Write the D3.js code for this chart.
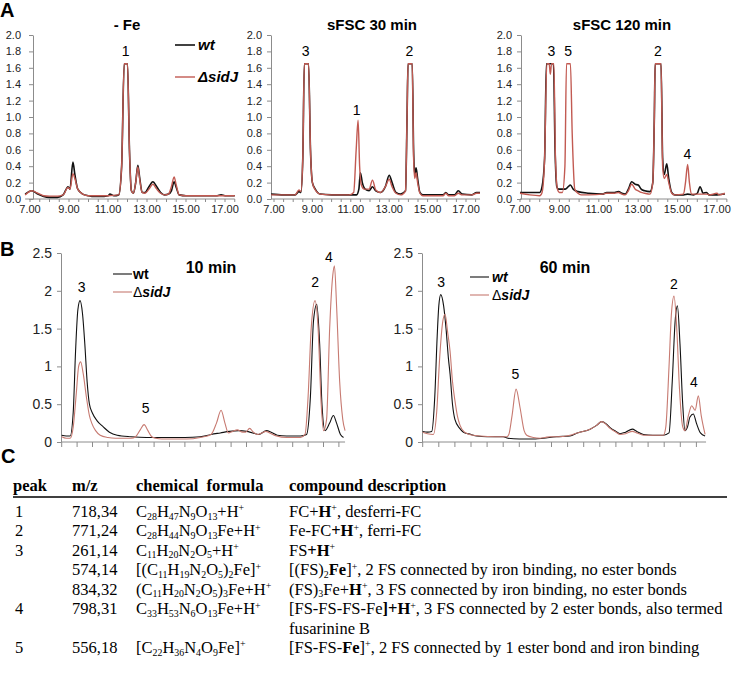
<!DOCTYPE html>
<html><head><meta charset="utf-8">
<script src="https://cdn.jsdelivr.net/npm/d3@7"></script>
<style>body{margin:0;background:#fff} svg{display:block} text{font-family:"Liberation Sans",Arial,sans-serif}</style>
</head><body><svg id="c" width="733" height="680"></svg>
<script>
// ---------------- DATA ----------------
// Panel A: retention time (min) vs signal
const aTickLabels = [7, 9, 11, 13, 15, 17];
const aYTicks = [0, 0.2, 0.4, 0.6, 0.8, 1.0, 1.2, 1.4, 1.6, 1.8, 2.0];
const aTitles = ["- Fe", "sFSC 30 min", "sFSC 120 min"];

const feWt = [[6.75,0.06],[7.1,0.10],[7.4,0.06],[7.7,0.03],[8.0,0.02],[8.4,0.02],[8.7,0.05],[8.95,0.15],[9.05,0.12],[9.2,0.45],[9.3,0.3],[9.45,0.12],[9.7,0.06],[10.0,0.04],[10.3,0.03],[10.6,0.03],[11.0,0.04],[11.1,0.06],[11.3,0.04],[11.55,0.05],[11.7,0.4],[11.83,1.65],[12.0,1.65],[12.1,0.6],[12.2,0.1],[12.3,0.07],[12.42,0.2],[12.53,0.41],[12.63,0.25],[12.75,0.08],[12.9,0.08],[13.1,0.15],[13.3,0.21],[13.5,0.15],[13.7,0.08],[13.9,0.05],[14.1,0.06],[14.25,0.1],[14.39,0.21],[14.5,0.14],[14.65,0.05],[15.0,0.04],[16.0,0.04],[16.6,0.04],[16.8,0.05],[17.0,0.04],[17.5,0.04]];
const feSid = [[6.75,0.05],[7.1,0.10],[7.4,0.07],[7.7,0.04],[8.0,0.035],[8.4,0.035],[8.7,0.05],[8.95,0.14],[9.05,0.12],[9.2,0.31],[9.3,0.25],[9.45,0.12],[9.7,0.06],[10.0,0.04],[10.5,0.04],[11.0,0.04],[11.55,0.05],[11.7,0.4],[11.83,1.65],[12.0,1.65],[12.1,0.6],[12.2,0.1],[12.3,0.07],[12.42,0.2],[12.53,0.39],[12.63,0.23],[12.75,0.08],[12.9,0.07],[13.1,0.12],[13.3,0.18],[13.5,0.12],[13.7,0.07],[13.9,0.05],[14.1,0.06],[14.25,0.15],[14.39,0.27],[14.5,0.17],[14.65,0.05],[15.0,0.04],[16.0,0.04],[17.5,0.04]];

const s30Wt = [[6.85,0.06],[7.5,0.05],[8.1,0.05],[8.3,0.09],[8.4,0.08],[8.5,0.5],[8.58,1.65],[8.8,1.65],[8.9,0.6],[9.0,0.2],[9.15,0.12],[9.4,0.06],[10.0,0.05],[10.9,0.05],[11.3,0.05],[11.42,0.12],[11.5,0.32],[11.6,0.2],[11.75,0.12],[11.95,0.1],[12.13,0.15],[12.3,0.1],[12.55,0.08],[12.8,0.15],[13.0,0.29],[13.15,0.2],[13.35,0.08],[13.6,0.06],[13.85,0.1],[13.93,1.0],[13.98,1.65],[14.2,1.65],[14.27,0.6],[14.33,0.3],[14.4,0.38],[14.48,0.25],[14.6,0.08],[14.75,0.05],[15.5,0.05],[15.8,0.05],[15.95,0.08],[16.1,0.05],[16.4,0.05],[16.6,0.10],[16.8,0.06],[17.3,0.05],[17.55,0.08],[17.73,0.08]];
const s30Sid = [[6.85,0.05],[7.5,0.05],[8.1,0.05],[8.3,0.11],[8.4,0.09],[8.5,0.5],[8.58,1.65],[8.8,1.65],[8.9,0.6],[9.0,0.2],[9.15,0.11],[9.4,0.06],[10.0,0.05],[10.9,0.05],[11.15,0.08],[11.28,0.6],[11.38,0.96],[11.46,0.4],[11.55,0.17],[11.7,0.12],[11.95,0.12],[12.13,0.23],[12.3,0.11],[12.55,0.08],[12.8,0.15],[13.0,0.24],[13.15,0.15],[13.35,0.07],[13.6,0.05],[13.85,0.1],[13.93,1.0],[13.98,1.65],[14.2,1.65],[14.27,0.5],[14.33,0.25],[14.4,0.32],[14.48,0.2],[14.6,0.07],[14.75,0.04],[15.5,0.04],[15.8,0.04],[15.95,0.07],[16.1,0.04],[16.4,0.04],[16.6,0.07],[16.8,0.05],[17.3,0.05],[17.55,0.07],[17.73,0.07]];

const s120Wt = [[7.0,0.08],[7.5,0.08],[8.0,0.08],[8.12,0.15],[8.25,0.5],[8.34,1.65],[8.7,1.65],[8.78,0.6],[8.87,0.15],[8.95,0.12],[9.3,0.12],[9.45,0.15],[9.56,0.17],[9.7,0.12],[9.94,0.09],[10.5,0.07],[11.2,0.06],[11.4,0.08],[11.8,0.08],[12.0,0.09],[12.17,0.07],[12.34,0.06],[12.5,0.12],[12.67,0.21],[12.85,0.18],[13.0,0.17],[13.15,0.12],[13.33,0.1],[13.6,0.09],[13.74,0.2],[13.82,1.0],[13.86,1.65],[14.16,1.65],[14.24,0.5],[14.32,0.3],[14.45,0.43],[14.55,0.25],[14.7,0.08],[14.85,0.05],[15.3,0.05],[15.51,0.06],[15.8,0.05],[16.0,0.07],[16.14,0.15],[16.3,0.07],[16.47,0.08],[16.6,0.05],[17.0,0.05],[17.4,0.06]];
const s120Sid = [[7.0,0.07],[7.5,0.05],[8.0,0.04],[8.12,0.08],[8.25,0.5],[8.36,1.65],[8.48,1.65],[8.54,1.52],[8.6,1.65],[8.72,1.65],[8.8,0.5],[8.9,0.12],[9.0,0.08],[9.15,0.08],[9.28,0.4],[9.36,1.65],[9.56,1.65],[9.65,0.8],[9.78,0.12],[9.94,0.07],[10.1,0.05],[10.5,0.05],[11.2,0.06],[11.4,0.07],[11.8,0.07],[12.0,0.08],[12.17,0.06],[12.34,0.05],[12.5,0.1],[12.67,0.18],[12.85,0.12],[13.0,0.1],[13.15,0.08],[13.33,0.07],[13.6,0.06],[13.74,0.2],[13.82,1.0],[13.86,1.65],[14.16,1.65],[14.24,0.4],[14.32,0.25],[14.45,0.3],[14.55,0.2],[14.7,0.07],[14.85,0.05],[15.3,0.06],[15.4,0.2],[15.51,0.42],[15.6,0.2],[15.7,0.06],[16.0,0.06],[16.14,0.06],[16.47,0.06],[16.6,0.05],[17.0,0.07],[17.1,0.05],[17.4,0.07]];

// Panel B: time index vs signal
const bYTicks = [0, 0.5, 1, 1.5, 2, 2.5];
const bTitles = ["10 min", "60 min"];
const m10Wt = [[0,0.09],[0.3,0.08],[0.55,0.08],[0.75,0.4],[0.9,1.2],[1.05,1.75],[1.19,1.87],[1.35,1.7],[1.5,1.3],[1.65,0.8],[1.8,0.5],[2.0,0.38],[2.3,0.28],[2.7,0.2],[3.1,0.13],[3.6,0.09],[4.5,0.07],[5.5,0.06],[7.0,0.06],[8.0,0.06],[9.0,0.07],[9.7,0.1],[10.3,0.12],[10.9,0.14],[11.5,0.15],[12.0,0.14],[12.4,0.12],[12.8,0.1],[13.3,0.15],[13.6,0.13],[14.0,0.09],[14.6,0.08],[15.5,0.08],[15.9,0.1],[16.15,0.6],[16.35,1.6],[16.56,1.82],[16.75,1.3],[16.9,0.5],[17.1,0.15],[17.4,0.25],[17.64,0.35],[17.85,0.25],[18.1,0.1],[18.3,0.06]];
const m10Sid = [[0,0.07],[0.3,0.05],[0.55,0.05],[0.75,0.2],[0.95,0.65],[1.1,1.0],[1.23,1.06],[1.4,0.9],[1.6,0.6],[1.8,0.35],[1.95,0.25],[2.2,0.15],[2.5,0.09],[3.0,0.06],[3.5,0.05],[4.5,0.05],[4.8,0.07],[5.1,0.16],[5.35,0.23],[5.6,0.15],[5.85,0.07],[6.1,0.05],[6.5,0.04],[8.1,0.04],[9.0,0.06],[9.7,0.1],[10.05,0.25],[10.35,0.42],[10.6,0.25],[10.82,0.12],[11.1,0.14],[11.4,0.16],[11.75,0.13],[11.95,0.13],[12.2,0.18],[12.45,0.13],[12.7,0.1],[13.0,0.12],[13.25,0.14],[13.5,0.12],[13.95,0.08],[14.6,0.06],[15.5,0.06],[15.8,0.1],[16.0,0.6],[16.2,1.5],[16.45,1.87],[16.65,1.5],[16.85,0.5],[17.0,0.15],[17.2,0.3],[17.4,1.5],[17.6,2.2],[17.71,2.33],[17.85,1.8],[18.05,0.8],[18.25,0.3],[18.4,0.15]];
const m60Wt = [[0,0.14],[0.3,0.13],[0.56,0.14],[0.75,0.6],[0.9,1.4],[1.0,1.8],[1.12,1.95],[1.3,1.8],[1.45,1.5],[1.6,1.1],[1.7,0.9],[1.85,0.5],[2.0,0.3],[2.3,0.18],[2.53,0.13],[3.0,0.1],[3.35,0.08],[4.0,0.07],[5.0,0.07],[5.3,0.05],[6.0,0.04],[7.0,0.04],[7.5,0.05],[8.3,0.07],[9.15,0.08],[9.6,0.12],[10.4,0.17],[10.8,0.22],[11.12,0.27],[11.4,0.24],[11.64,0.19],[12.0,0.14],[12.26,0.11],[12.6,0.13],[13.02,0.17],[13.3,0.14],[13.71,0.1],[14.3,0.09],[14.95,0.09],[15.3,0.12],[15.5,0.8],[15.68,1.6],[15.82,1.8],[15.98,1.3],[16.15,0.5],[16.29,0.15],[16.45,0.2],[16.6,0.33],[16.81,0.37],[17.0,0.25],[17.25,0.12],[17.54,0.08]];
const m60Sid = [[0,0.13],[0.3,0.11],[0.66,0.1],[0.87,0.4],[1.05,1.1],[1.25,1.6],[1.39,1.69],[1.55,1.45],[1.7,1.2],[1.85,0.8],[2.0,0.55],[2.15,0.35],[2.32,0.22],[2.6,0.13],[2.9,0.1],[3.56,0.08],[4.5,0.07],[5.22,0.07],[5.35,0.1],[5.55,0.35],[5.8,0.7],[6.05,0.45],[6.3,0.15],[6.46,0.09],[6.87,0.06],[7.3,0.05],[7.6,0.06],[7.91,0.07],[8.3,0.07],[9.15,0.09],[9.6,0.12],[10.4,0.17],[10.8,0.22],[11.12,0.27],[11.4,0.23],[11.64,0.18],[12.0,0.13],[12.26,0.1],[12.6,0.11],[13.02,0.14],[13.3,0.12],[13.71,0.09],[14.3,0.09],[14.95,0.09],[15.1,0.2],[15.3,1.0],[15.45,1.7],[15.61,1.93],[15.78,1.5],[15.95,0.7],[16.15,0.2],[16.29,0.15],[16.5,0.35],[16.71,0.48],[16.92,0.42],[17.12,0.61],[17.3,0.35],[17.54,0.1]];

// Peak labels: [panel, label, x (time), y (value)]
const aPeakLabels = [[0,"1",11.9,1.74],[1,"3",8.65,1.74],[1,"2",14.05,1.74],[1,"1",11.3,1.03],[2,"3",8.6,1.74],[2,"5",9.45,1.74],[2,"2",14.0,1.74],[2,"4",15.5,0.49]];
const bPeakLabels = [[0,"3",1.3,1.98],[0,"5",5.45,0.39],[0,"2",16.45,2.05],[0,"4",17.35,2.38],[1,"3",1.15,2.05],[1,"5",5.75,0.83],[1,"2",15.6,2.03],[1,"4",16.85,0.73]];

// Table C
const tableHeader = ["peak", "m/z", "chemical  formula", "compound description"];
const tablePeaks = ["1", "2", "3", "", "", "4", "", "5"];
const tableMz = ["718,34", "771,24", "261,14", "574,14", "834,32", "798,31", "", "556,18"];
const tableFormula = ["C_{28}H_{47}N_{9}O_{13}+H^{+}", "C_{28}H_{44}N_{9}O_{13}Fe+H^{+}", "C_{11}H_{20}N_{2}O_{5}+H^{+}", "[(C_{11}H_{19}N_{2}O_{5})_{2}Fe]^{+}", "(C_{11}H_{20}N_{2}O_{5})_{3}Fe+H^{+}", "C_{33}H_{53}N_{6}O_{13}Fe+H^{+}", "", "[C_{22}H_{36}N_{4}O_{9}Fe]^{+}"];
const tableDesc = ["FC+*H*^{+}, desferri-FC", "Fe-FC*+H*^{+}, ferri-FC", "FS*+H*^{+}", "[(FS)_{2}*Fe*]^{+}, 2 FS connected by iron binding, no ester bonds", "(FS)_{3}Fe+*H*^{+}, 3 FS connected by iron binding, no ester bonds", "[FS-FS-FS-Fe*]+H*^{+}, 3 FS connected by 2 ester bonds, also termed", "fusarinine B", "[FS-FS-*Fe*]^{+}, 2 FS connected by 1 ester bond and iron binding"];

// ---------------- DRAW ----------------
const svg = d3.select("#c");
const AX = "#8c8c8c";
const BLACK = "#111";
const RED_A = "#c25a52";
const RED_B = "#c77a71";

function letter(t, x, y){
  svg.append("text").attr("x",x).attr("y",y).text(t)
    .style("font-size","20px").style("font-weight","bold");
}
letter("A", 0, 17); letter("B", 0, 256); letter("C", 1, 463);

const aPanels = [
  {data:[feWt,feSid], x7:30, x17:225, yAxisX:33, t0:6.75, t1:17.5, pad:8, title:127, legend:true},
  {data:[s30Wt,s30Sid], x7:274, x17:466, yAxisX:271, t0:6.85, t1:17.73, pad:5, title:372},
  {data:[s120Wt,s120Sid], x7:520, x17:717, yAxisX:521, t0:7.0, t1:17.5, pad:5, title:622}
];
const aY = d3.scaleLinear().domain([0,2]).range([199,35]);

aPanels.forEach((p,i)=>{
  const x = d3.scaleLinear().domain([7,17]).range([p.x7,p.x17]);
  const g = svg.append("g");
  g.append("line").attr("x1",x(p.t0)).attr("x2",x(p.t1)).attr("y1",aY(0)).attr("y2",aY(0))
    .attr("stroke",AX).attr("stroke-width",1);
  const xt = d3.range(Math.ceil(p.t0*2)/2, p.t1+0.001, 0.5);
  g.selectAll(".xt").data(xt).join("line")
    .attr("x1",d=>x(d)).attr("x2",d=>x(d)).attr("y1",aY(0)).attr("y2",aY(0)+3)
    .attr("stroke",AX);
  g.selectAll(".xl").data(aTickLabels).join("text")
    .attr("x",d=>x(d)).attr("y",213).attr("text-anchor","middle")
    .style("font-size","11px").style("fill","#222").text(d=>d.toFixed(2));
  const ya = g.append("g").attr("transform",`translate(${p.yAxisX},0)`)
    .call(d3.axisLeft(aY).tickValues(aYTicks).tickFormat(d3.format(".1f")).tickSize(4).tickSizeOuter(0).tickPadding(p.pad));
  ya.select(".domain").attr("stroke",AX);
  ya.selectAll(".tick line").attr("stroke",AX);
  ya.selectAll("text").style("font-size","11px").style("fill","#222").style("font-family","Liberation Sans, Arial");
  const line = d3.line().x(d=>x(d[0])).y(d=>aY(d[1])).curve(d3.curveMonotoneX);
  g.append("path").datum(p.data[0]).attr("d",line).attr("fill","none").attr("stroke",BLACK).attr("stroke-width",1.6);
  g.append("path").datum(p.data[1]).attr("d",line).attr("fill","none").attr("stroke",RED_A).attr("stroke-width",1.4);
  g.append("text").attr("x",p.title).attr("y",30).attr("text-anchor","middle")
    .style("font-size","15px").style("font-weight","bold").text(aTitles[i]);
  aPeakLabels.filter(l=>l[0]===i).forEach(l=>{
    g.append("text").attr("x",x(l[2])).attr("y",aY(l[3])).attr("text-anchor","middle")
      .style("font-size","14px").text(l[1]);
  });
  if(p.legend){
    g.append("line").attr("x1",175).attr("x2",195).attr("y1",45).attr("y2",45).attr("stroke",BLACK).attr("stroke-width",1.6);
    g.append("text").attr("x",198).attr("y",50).style("font-size","15px").style("font-weight","bold").style("font-style","italic").text("wt");
    g.append("line").attr("x1",175).attr("x2",195).attr("y1",77).attr("y2",77).attr("stroke",RED_A).attr("stroke-width",1.4);
    g.append("text").attr("x",198).attr("y",82).style("font-size","15px").style("font-weight","bold").style("font-style","italic").text("\u0394sidJ");
  }
});

// Panel B
const bY = d3.scaleLinear().domain([0,2.5]).range([442,253]);
const bPanels = [
  {data:[m10Wt,m10Sid], t1:18.4, x0:61.7, unit:15.4, ticks:18, title:211, leg:[113,133,274,292], wtItalic:false},
  {data:[m60Wt,m60Sid], t1:17.6, x0:422.7, unit:16.1, ticks:17, title:565, leg:[470,492,277,295], wtItalic:true}
];
bPanels.forEach((p,i)=>{
  const x = d3.scaleLinear().domain([0,p.t1]).range([p.x0, p.x0+p.unit*p.t1]);
  const g = svg.append("g");
  g.append("line").attr("x1",x(0)).attr("x2",x(p.t1)).attr("y1",bY(0)).attr("y2",bY(0)).attr("stroke",AX);
  g.selectAll(".xt").data(d3.range(0,p.ticks+1)).join("line")
    .attr("x1",d=>x(d)).attr("x2",d=>x(d)).attr("y1",bY(0)).attr("y2",bY(0)+5).attr("stroke",AX);
  const ya = g.append("g").attr("transform",`translate(${x(0)-0.7},0)`)
    .call(d3.axisLeft(bY).tickValues(bYTicks).tickFormat(d=>String(d)).tickSize(4).tickSizeOuter(0).tickPadding(5));
  ya.select(".domain").attr("stroke",AX);
  ya.selectAll(".tick line").attr("stroke",AX);
  ya.selectAll("text").style("font-size","14px").style("fill","#222").style("font-family","Liberation Sans, Arial");
  const line = d3.line().x(d=>x(d[0])).y(d=>bY(d[1])).curve(d3.curveMonotoneX);
  g.append("path").datum(p.data[0]).attr("d",line).attr("fill","none").attr("stroke",BLACK).attr("stroke-width",1.1);
  g.append("path").datum(p.data[1]).attr("d",line).attr("fill","none").attr("stroke",RED_B).attr("stroke-width",1.1);
  g.append("text").attr("x",p.title).attr("y",273).attr("text-anchor","middle")
    .style("font-size","16px").style("font-weight","bold").text(bTitles[i]);
  bPeakLabels.filter(l=>l[0]===i).forEach(l=>{
    g.append("text").attr("x",x(l[2])).attr("y",bY(l[3])).attr("text-anchor","middle")
      .style("font-size","14px").text(l[1]);
  });
  const [lx, tx, y1, y2] = p.leg;
  g.append("line").attr("x1",lx).attr("x2",lx+19).attr("y1",y1).attr("y2",y1).attr("stroke",BLACK).attr("stroke-width",1.1);
  g.append("text").attr("x",tx).attr("y",y1+5).style("font-size","14px").style("font-weight","bold")
    .style("font-style",p.wtItalic?"italic":"normal").text("wt");
  g.append("line").attr("x1",lx).attr("x2",lx+19).attr("y1",y2).attr("y2",y2).attr("stroke",RED_B).attr("stroke-width",1.1);
  const t = g.append("text").attr("x",tx).attr("y",y2+5).style("font-size","14px");
  t.append("tspan").text("\u0394");
  t.append("tspan").style("font-weight","bold").style("font-style","italic").text("sidJ");
});

// Table C
function parseRich(s){
  const segs=[]; let bold=false, i=0, buf='';
  const push=(text,mode)=>{ if(text) segs.push({text,mode,bold}); };
  while(i<s.length){
    const ch=s[i];
    if(ch==='*'){ push(buf,'n'); buf=''; bold=!bold; i++; }
    else if((ch==='_'||ch==='^') && s[i+1]==='{'){
      push(buf,'n'); buf='';
      const j=s.indexOf('}',i);
      push(s.slice(i+2,j), ch==='_'?'sub':'sup'); i=j+1;
    } else { buf+=ch; i++; }
  }
  push(buf,'n');
  return segs;
}
const TF = "'Liberation Serif','Times New Roman',serif";
const FS = 16.5;
function rich(g,x,y,str,bold){
  const t=g.append("text").attr("x",x).attr("y",y).style("font-family",TF).style("font-size",FS+"px")
    .attr("xml:space","preserve");
  if(bold) t.style("font-weight","bold");
  let cur=0;
  parseRich(str).forEach(s=>{
    const target = s.mode==='sub' ? 2.5 : s.mode==='sup' ? -5.6 : 0;
    const ts=t.append("tspan").attr("dy",target-cur).text(s.text);
    if(s.mode!=='n') ts.style("font-size",(FS*0.6)+"px");
    if(s.bold) ts.style("font-weight","bold");
    cur=target;
  });
}
const cols = [13, 72, 136, 289];
const tg = svg.append("g");
tableHeader.forEach((h,i)=>rich(tg, cols[i], 491, h, true));
tg.append("line").attr("x1",13).attr("x2",727).attr("y1",497).attr("y2",497).attr("stroke","#000").attr("stroke-width",1.6);
const rowY = d3.scaleLinear().domain([0,7]).range([517,653]);
tablePeaks.forEach((pk,r)=>{
  const y = rowY(r);
  if(pk) rich(tg, cols[0]+2, y, pk);
  if(tableMz[r]) rich(tg, cols[1], y, tableMz[r]);
  if(tableFormula[r]) rich(tg, cols[2], y, tableFormula[r]);
  rich(tg, cols[3], y, tableDesc[r]);
});
</script></body></html>
